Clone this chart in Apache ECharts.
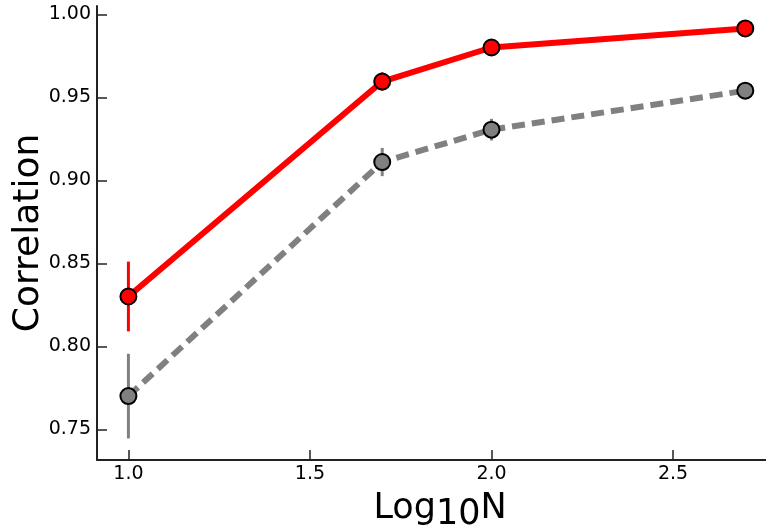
<!DOCTYPE html>
<html><head><meta charset="utf-8">
<script src="https://cdn.jsdelivr.net/npm/echarts@6/dist/echarts.min.js"></script>
<style>html,body{margin:0;padding:0;background:#fff}#c{width:766px;height:529px}</style>
</head><body><div id="c"></div>
<script>
const xValues = [1.0, 1.699, 2.0, 2.699];
const redValues = [0.830, 0.9595, 0.980, 0.9915];
const redErrors = [0.021, 0.0055, 0.002, 0.001];
const grayValues = [0.770, 0.9110, 0.9305, 0.9540];
const grayErrors = [0.0255, 0.0085, 0.0065, 0.001];
const xTicks = [1.0, 1.5, 2.0, 2.5];
const yTicks = [0.75, 0.80, 0.85, 0.90, 0.95, 1.00];

const chart = echarts.init(document.getElementById('c'), null, {renderer: 'canvas'});
const font = 'DejaVu Sans';

function errSeries(vals, errs, color) {
  return {
    type: 'custom',
    z: 1,
    data: xValues.map((x, i) => [x, vals[i] - errs[i], vals[i] + errs[i]]),
    renderItem: function (params, api) {
      const lo = api.coord([api.value(0), api.value(1)]);
      const hi = api.coord([api.value(0), api.value(2)]);
      return {type: 'line', shape: {x1: lo[0], y1: lo[1], x2: hi[0], y2: hi[1]},
        style: {stroke: color, lineWidth: 3}};
    }
  };
}

chart.setOption({
  animation: false,
  backgroundColor: '#fff',
  grid: {left: 97, top: 6, right: 0, bottom: 69, containLabel: false, outerBoundsMode: 'none'},
  xAxis: {
    type: 'value', min: 0.9135, max: 2.756,
    axisLine: {show: true, lineStyle: {color: '#222', width: 2}},
    axisTick: {show: true, inside: true, length: 10, lineStyle: {color: '#222', width: 1.5}, customValues: xTicks},
    axisLabel: {customValues: xTicks, color: '#000', fontFamily: font, fontSize: 19, margin: 5,
      formatter: v => v.toFixed(1)},
    splitLine: {show: false},
    name: '{a|Log}{b|10}{a|N}', nameLocation: 'middle', nameGap: 31, nameMoveOverlap: false,
    nameTextStyle: {padding: [0, 0, 0, 17], rich: {
      a: {fontFamily: font, fontSize: 35, color: '#000', verticalAlign: 'bottom'},
      b: {fontFamily: font, fontSize: 35, color: '#000', verticalAlign: 'bottom', padding: [0,0,-6,0]}
    }}
  },
  yAxis: {
    type: 'value', min: 0.7315, max: 1.005,
    axisLine: {show: true, lineStyle: {color: '#222', width: 2}},
    axisTick: {show: true, inside: true, length: 10, lineStyle: {color: '#222', width: 1.5}, customValues: yTicks},
    axisLabel: {customValues: yTicks, color: '#000', fontFamily: font, fontSize: 19, margin: 6,
      formatter: v => v.toFixed(2)},
    splitLine: {show: false},
    name: 'Correlation', nameLocation: 'middle', nameGap: 50, nameMoveOverlap: false,
    nameTextStyle: {fontFamily: font, fontSize: 36, color: '#000'}
  },
  series: [
    errSeries(redValues, redErrors, '#ff0000'),
    errSeries(grayValues, grayErrors, '#808080'),
    {
      type: 'line', z: 3,
      data: xValues.map((x, i) => [x, redValues[i]]),
      lineStyle: {color: '#ff0000', width: 6},
      symbol: 'circle', symbolSize: 16,
      itemStyle: {color: '#ff0000', borderColor: '#000', borderWidth: 2}
    },
    {
      type: 'line', z: 2,
      data: xValues.map((x, i) => [x, grayValues[i]]),
      lineStyle: {color: '#808080', width: 6, type: [13, 7]},
      symbol: 'circle', symbolSize: 16,
      itemStyle: {color: '#808080', borderColor: '#000', borderWidth: 2}
    }
  ]
});
</script></body></html>
